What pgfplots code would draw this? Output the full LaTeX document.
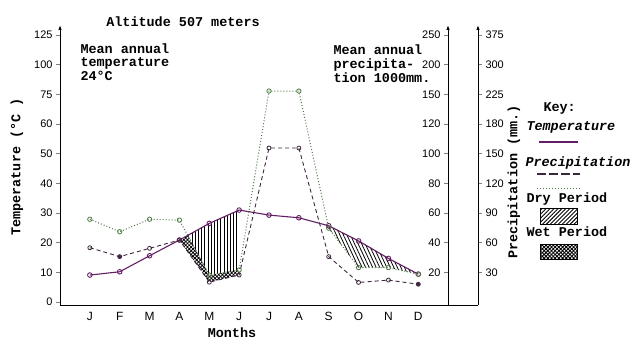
\documentclass[border=0pt]{standalone}
\usepackage{pgfplots}
\pgfplotsset{compat=1.18}
\usepackage{fontspec}
\setmainfont{Liberation Sans}
\setmonofont{Liberation Mono}
\usetikzlibrary{patterns,patterns.meta,arrows.meta}
\definecolor{tcol}{RGB}{100,30,100}
\definecolor{pcol}{RGB}{60,40,60}
\definecolor{dcol}{RGB}{80,120,70}
\newcommand{\tw}{\ttfamily\bfseries\fontsize{13.5}{13.5}\selectfont}
\newcommand{\tk}{\fontsize{11}{11}\selectfont}

\begin{document}
\begin{tikzpicture}
\useasboundingbox (0,0) rectangle (632bp,339bp);
% main axis
\begin{axis}[
  at={(60bp,34bp)}, anchor=south west,
  scale only axis, width=418bp, height=280bp,
  xmin=-1, xmax=13, ymin=-0.1, ymax=9.337,
  axis x line=bottom, axis y line=left,
  x axis line style={-, line width=1bp},
  y axis line style={-{Latex[length=5bp,width=3.5bp]}, line width=1bp},
  tick align=outside, major tick length=4bp,
  xtick={0,...,11}, xticklabels={J,F,M,A,M,J,J,A,S,O,N,D},
  xtick style={draw=none},
  ytick={0,...,9}, yticklabels={0,10,20,30,40,50,60,75,100,125},
  ytick style={line width=0.8bp},
  ticklabel style={font=\tk},
  xticklabel style={font=\fontsize{12}{12}\selectfont},
  /pgf/number format/assume math mode=true,
  clip=false,
]
% dry period hatching (Apr-Jun)
\addplot[draw=none, pattern={Lines[angle=90,distance=3.2bp,line width=0.8bp]}] coordinates {(3.28,2.25) (4,2.65) (5,3.10) (5,1.08) (4,0.91)} -- cycle;
% dry period hatching (Sep-Dec)
\addplot[draw=none, pattern={Lines[angle=115,distance=3.2bp,line width=0.8bp]}] coordinates {(8,2.57) (9,2.06) (10,1.47) (11,0.94) (10,1.16) (9,1.16) (8,2.49)} -- cycle;
% wet period cross hatch
\addplot[draw=none, pattern={Hatch[angle=45,distance=2.6bp,line width=0.8bp]}] coordinates {(3,2.09) (3.28,2.25) (4,0.91) (5,1.08) (5,0.91) (4,0.67)} -- cycle;
% temperature
\addplot[tcol, line width=1.1bp, mark=o, mark size=2.3bp, mark options={solid, line width=0.9bp}] coordinates {
(0,0.91) (1,1.02) (2,1.56) (3,2.09) (4,2.65) (5,3.10) (6,2.93) (7,2.84) (8,2.57) (9,2.06) (10,1.47) (11,0.94)};
% precipitation (dashed)
\addplot[pcol, line width=0.9bp, dash pattern=on 4bp off 3bp, mark=o, mark size=2bp, mark options={solid, line width=0.8bp}] coordinates {
(0,1.83) (1,1.53) (2,1.81) (3,2.09) (4,0.67) (5,0.91) (6,5.19) (7,5.19) (8,1.53) (9,0.66) (10,0.74) (11,0.60)};
\addplot[pcol, only marks, mark=*, mark size=1.8bp] coordinates {(1,1.53) (11,0.60)};
% dry period line (dotted)
\addplot[dcol, line width=1bp, dotted, mark=o, mark size=2.2bp, mark options={solid, line width=0.8bp}] coordinates {
(0,2.79) (1,2.37) (2,2.79) (3,2.76) (4,0.91) (5,1.08) (6,7.11) (7,7.11) (8,2.49) (9,1.16) (10,1.16) (11,0.94)};
\end{axis}
% 250 axis
\begin{axis}[
  at={(448bp,34bp)}, anchor=south west,
  scale only axis, width=20bp, height=280bp,
  xmin=0, xmax=1, ymin=-0.1, ymax=9.337,
  axis y line=left, axis x line=none,
  y axis line style={-{Latex[length=5bp,width=3.5bp]}, line width=1bp},
  tick align=outside, major tick length=4bp,
  xtick=\empty,
  ytick={1,...,9}, yticklabels={20,40,60,80,100,120,150,200,250},
  ytick style={line width=0.8bp},
  ticklabel style={font=\tk},
]
\end{axis}
% 375 axis
\begin{axis}[
  at={(478bp,34bp)}, anchor=south east,
  scale only axis, width=20bp, height=280bp,
  xmin=0, xmax=1, ymin=-0.1, ymax=9.337,
  axis y line=right, axis x line=none,
  y axis line style={-{Latex[length=5bp,width=3.5bp]}, line width=1bp},
  tick align=outside, major tick length=4bp,
  xtick=\empty,
  ytick={1,...,9}, yticklabels={30,60,90,120,150,180,225,300,375},
  ytick style={line width=0.8bp},
  ticklabel style={font=\tk},
]
\end{axis}
% texts
\node[font=\tw] at (183bp,317bp) {Altitude 507 meters};
\node[font=\tw, anchor=base west] at (77bp,285bp) {Mean annual};
\node[font=\tw, anchor=base west] at (77bp,272bp) {temperature};
\node[font=\tw, anchor=base west] at (77bp,258bp) {24\textdegree C};
\node[font=\tw, anchor=base west] at (330bp,284bp) {Mean annual};
\node[font=\tw, anchor=base west] at (330bp,270bp) {precipita-};
\node[font=\tw, anchor=base west] at (330bp,256bp) {tion 1000mm.};
\node[font=\tw, rotate=90] at (17bp,172bp) {Temperature (\textdegree C )};
\node[font=\tw, rotate=90] at (514bp,157bp) {Precipitation (mm.)};
\node[font=\tw, anchor=base] at (232bp,2bp) {Months};
% key
\node[font=\tw, anchor=base west] at (540bp,227bp) {Key:};
\node[font=\tw\itshape, anchor=base west] at (523bp,208bp) {Temperature};
\draw[tcol, line width=2bp] (539bp,197bp) -- (578bp,197bp);
\node[font=\tw\itshape, anchor=base west] at (522bp,172bp) {Precipitation};
\draw[pcol, line width=2bp, dash pattern=on 9bp off 3bp] (537bp,165bp) -- (580bp,165bp);
\draw[dcol, line width=1bp, dotted] (537bp,150bp) -- (580bp,150bp);
\node[font=\tw, anchor=base west] at (523bp,136bp) {Dry Period};
\draw[line width=1bp, pattern={Lines[angle=45,distance=2.8bp,line width=0.9bp]}] (540bp,114bp) rectangle (577bp,130bp);
\node[font=\tw, anchor=base west] at (523bp,102bp) {Wet Period};
\draw[line width=1bp, pattern={Hatch[angle=45,distance=2.6bp,line width=0.9bp]}] (540bp,79bp) rectangle (577bp,94bp);
\end{tikzpicture}
\end{document}
